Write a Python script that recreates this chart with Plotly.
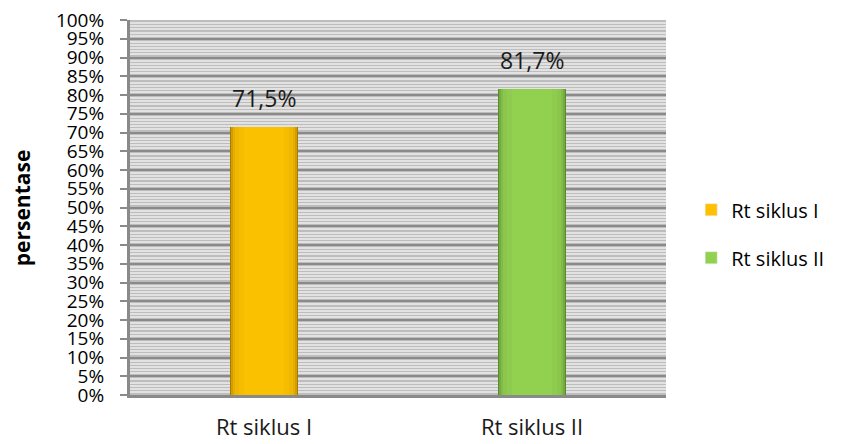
import plotly.graph_objects as go

# Rata-rata persentase per siklus
categories = ["Rt siklus I", "Rt siklus II"]
values = [71.5, 81.7]
y_ticks = list(range(0, 101, 5))

# Bar shading: outer (dark edge) to inner (bright centre)
layer_widths = [0.254, 0.244, 0.232, 0.215, 0.19, 0.15]
gold_shades = ["#a87c00", "#d29d00", "#e5ae00", "#efb800", "#f6bd00", "#fac100"]
green_shades = ["#5a8a2c", "#74ab3e", "#82bc48", "#8bc64d", "#8fcb4f", "#92d050"]
legend_colors = ["#ffc000", "#92d050"]
shade_sets = [gold_shades, green_shades]

FONT = "Open Sans"

fig = go.Figure()

for cat, val, shades, lcol in zip(categories, values, shade_sets, legend_colors):
    for i, (w, c) in enumerate(zip(layer_widths, shades)):
        fig.add_trace(go.Bar(
            x=[cat], y=[val], width=w,
            marker=dict(color=c, line=dict(width=0)),
            name=cat, legendgroup=cat,
            showlegend=False, hoverinfo="skip" if i else None,
        ))
    # legend entry carries the series colour
    fig.add_trace(go.Bar(
        x=[cat], y=[None], name=cat, legendgroup=cat,
        marker=dict(color=lcol), showlegend=True,
    ))
    fig.add_annotation(
        x=cat, y=val, text=f"{val:.1f}%".replace(".", ","),
        showarrow=False, yanchor="bottom", yshift=11,
        font=dict(family=FONT, size=23, color="#1a1a1a"),
    )

fig.add_annotation(
    xref="paper", yref="paper", x=-0.202, y=0.5,
    xanchor="center", yanchor="middle",
    text="<b>persentase</b>", textangle=-90, showarrow=False,
    font=dict(family=FONT, size=21, color="#000000"),
)

fig.update_layout(
    width=841, height=444,
    margin=dict(l=130, r=171, t=20, b=49),
    barmode="overlay",
    bargap=0,
    paper_bgcolor="#ffffff",
    plot_bgcolor="#bdbdbd",
    font=dict(family=FONT, size=19, color="#000000"),
    legend=dict(
        x=1.047, y=0.43, xanchor="left", yanchor="middle",
        font=dict(family=FONT, size=20),
        tracegroupgap=19, bgcolor="rgba(0,0,0,0)",
    ),
    xaxis=dict(
        type="category", categoryorder="array", categoryarray=categories,
        showgrid=False, ticks="", zeroline=False,
        showline=True, linecolor="#8a8a8a", linewidth=3,
        tickfont=dict(family=FONT, size=22, color="#1a1a1a"),
        ticklabelstandoff=11, automargin=False,
    ),
    yaxis=dict(
        range=[0, 100], tickvals=y_ticks,
        ticktext=[f"{t}%" for t in y_ticks],
        showgrid=True, gridcolor="#8a8a8a", gridwidth=2,
        zeroline=False, automargin=False,
        showline=True, linecolor="#8a8a8a", linewidth=3,
        ticks="outside", ticklen=7, tickwidth=2, tickcolor="#8a8a8a",
        tickfont=dict(family=FONT, size=19, color="#000000"),
        ticklabelstandoff=12,
        minor=dict(dtick=5 / 6, showgrid=True, gridcolor="#e2e2e2", gridwidth=1.5, ticks=""),
    ),
)

fig.write_html("out.html")
